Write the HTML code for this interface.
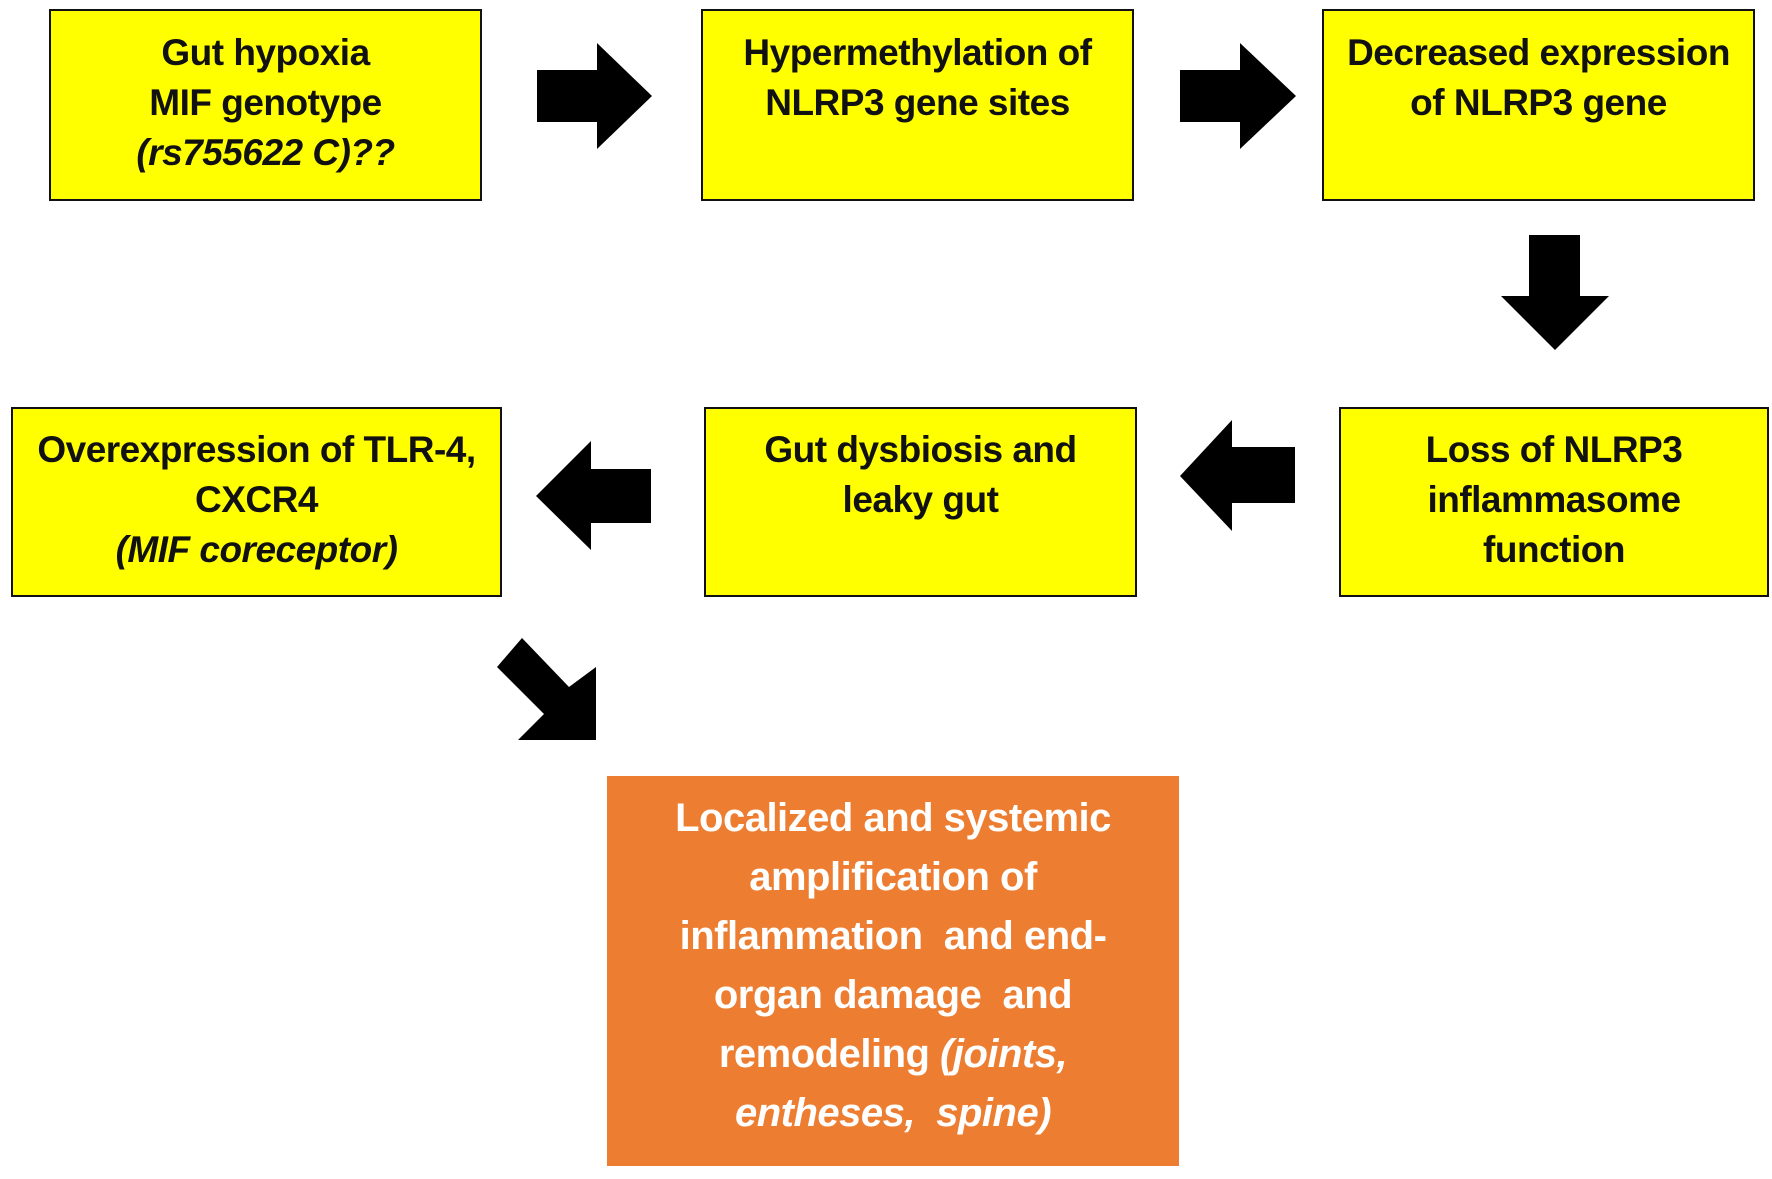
<!DOCTYPE html>
<html><head><style>
body{margin:0;width:1772px;height:1179px;background:#fff;position:relative;overflow:hidden;font-family:"Liberation Sans",sans-serif;}
.b{position:absolute;background:#ffff00;border:2px solid #111;box-sizing:border-box;text-align:center;font-weight:bold;font-size:37px;color:#111;line-height:50px;letter-spacing:-0.5px;}
.o{position:absolute;left:607px;top:776px;width:572px;height:390px;background:#ed7d31;color:#fff;text-align:center;font-weight:bold;font-size:40px;line-height:59px;padding-top:13px;box-sizing:border-box;letter-spacing:-0.5px;}
i{font-style:italic}
svg{position:absolute;left:0;top:0}
</style></head><body>
<div class="b" style="left:49px;top:9px;width:433px;height:192px;padding-top:17px">Gut hypoxia<br>MIF genotype<br><i>(rs755622 C)??</i></div>
<div class="b" style="left:701px;top:9px;width:433px;height:192px;padding-top:17px">Hypermethylation of<br>NLRP3 gene sites</div>
<div class="b" style="left:1322px;top:9px;width:433px;height:192px;padding-top:17px">Decreased expression<br>of NLRP3 gene</div>
<div class="b" style="left:11px;top:407px;width:491px;height:190px;padding-top:16px">Overexpression of TLR-4,<br>CXCR4<br><i>(MIF coreceptor)</i></div>
<div class="b" style="left:704px;top:407px;width:433px;height:190px;padding-top:16px">Gut dysbiosis and<br>leaky gut</div>
<div class="b" style="left:1339px;top:407px;width:430px;height:190px;padding-top:16px">Loss of NLRP3<br>inflammasome<br>function</div>
<div class="o">Localized and systemic<br>amplification of<br>inflammation&nbsp; and end-<br>organ damage&nbsp; and<br>remodeling <i>(joints,</i><br><i>entheses,&nbsp; spine)</i></div>
<svg width="1772" height="1179">
<polygon fill="#000" points="537,70 597,70 597,43 652,96 597,149 597,122 537,122"/>
<polygon fill="#000" points="1180,70 1240,70 1240,43 1296,96 1240,149 1240,122 1180,122"/>
<polygon fill="#000" points="1529,235 1580,235 1580,296 1609,296 1555,350 1501,296 1529,296"/>
<polygon fill="#000" points="1295,447 1232,447 1232,420 1180,476 1232,531 1232,503 1295,503"/>
<polygon fill="#000" points="651,469 591,469 591,441 536,496 591,550 591,523 651,523"/>
<polygon fill="#000" points="522,638 569,687 596,667 596,740 518,740 544,714 497,667"/>
</svg>
</body></html>
